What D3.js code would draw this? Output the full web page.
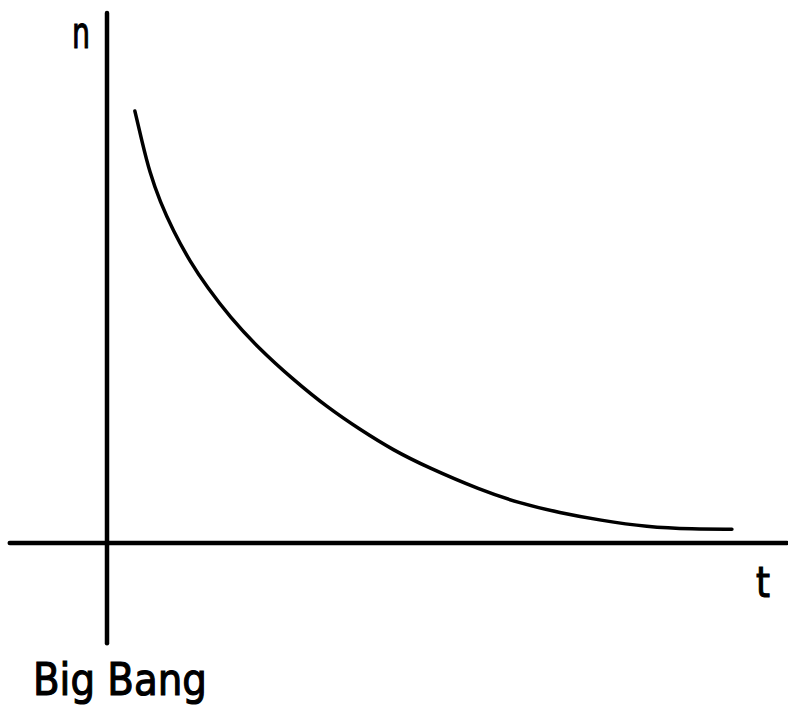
<!DOCTYPE html>
<html lang="en">
<head>
  <meta charset="UTF-8">
  <title>Big Bang</title>
  <script src="https://d3js.org/d3.v7.min.js"></script>
  <style>
    html, body { margin: 0; padding: 0; background: #fff; }
    text { font-family: "DejaVu Sans", sans-serif; fill: #000; stroke: #000; stroke-width: 1.2px; }
  </style>
</head>
<body>
  <svg width="788" height="707"></svg>

  <script>
    // curve samples (arbitrary units)
    const tValues = [4.1, 5.1, 6.3, 7.8, 9.7, 12.2, 14.7, 18.1, 22.1, 27.4, 32.4, 37.2, 42.1, 47.1, 54.9, 60.7, 66.6, 72.5, 79.4, 86.2, 91.9];
    const nValues = [81.5, 76.0, 69.8, 64.4, 59.0, 53.1, 48.3, 42.6, 37.0, 30.8, 25.6, 21.4, 17.5, 14.3, 10.0, 7.5, 5.7, 4.3, 3.0, 2.6, 2.6];
    const tAxisExtent = [-14.3, 100];
    const nAxisExtent = [-18.9, 100];
    const labels = { n: "n", t: "t", origin: "Big Bang" };

    const svg = d3.select("svg");
    const x = d3.scaleLinear().domain([0, 100]).range([107, 787]);
    const y = d3.scaleLinear().domain([0, 100]).range([543, 13]);

    // axes
    svg.append("line")
      .attr("x1", x(tAxisExtent[0])).attr("x2", x(tAxisExtent[1]))
      .attr("y1", y(0)).attr("y2", y(0))
      .attr("stroke", "#000").attr("stroke-width", 4.5).attr("stroke-linecap", "round");
    svg.append("line")
      .attr("x1", x(0)).attr("x2", x(0))
      .attr("y1", y(nAxisExtent[1])).attr("y2", y(nAxisExtent[0]))
      .attr("stroke", "#000").attr("stroke-width", 4.5).attr("stroke-linecap", "round");

    const pts = tValues.map((t, i) => [t, nValues[i]]);
    const line = d3.line()
      .x(d => x(d[0]))
      .y(d => y(d[1]))
      .curve(d3.curveBasis);

    svg.append("path")
      .datum(pts)
      .attr("d", line)
      .attr("fill", "none")
      .attr("stroke", "#000")
      .attr("stroke-width", 3.5)
      .attr("stroke-linecap", "round");

    svg.append("text")
      .attr("x", 72).attr("y", 48)
      .attr("font-size", 44)
      .attr("textLength", 18).attr("lengthAdjust", "spacingAndGlyphs")
      .text(labels.n);

    svg.append("text")
      .attr("x", 756).attr("y", 597)
      .attr("font-size", 42)
      .attr("textLength", 14).attr("lengthAdjust", "spacingAndGlyphs")
      .text(labels.t);

    svg.append("text")
      .attr("x", 33).attr("y", 695)
      .attr("font-size", 44)
      .attr("textLength", 174).attr("lengthAdjust", "spacingAndGlyphs")
      .text(labels.origin);
  </script>
</body>
</html>
